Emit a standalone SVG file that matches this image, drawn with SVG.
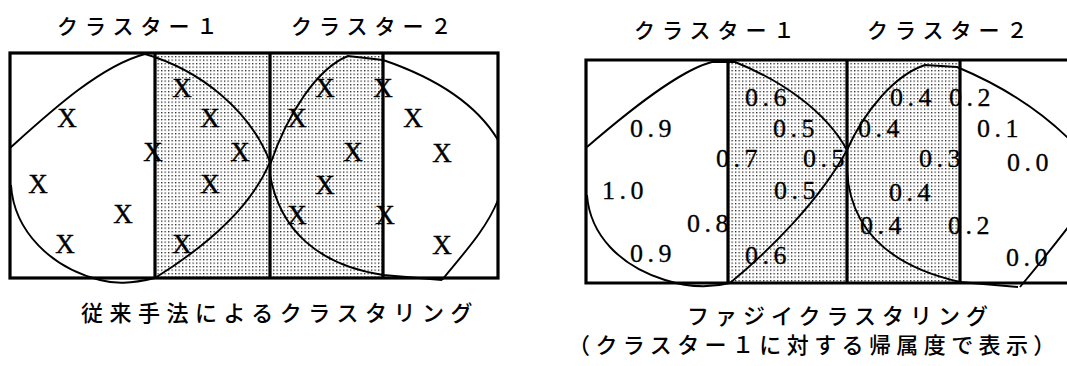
<svg xmlns="http://www.w3.org/2000/svg" width="1067" height="366" viewBox="0 0 1067 366">
<defs>
<pattern id="dots" width="3.5" height="3.5" patternUnits="userSpaceOnUse">
<rect x="0" y="0" width="1.3" height="1.3" fill="#222"/>
</pattern>
<style>
.box{fill:none;stroke:#000;stroke-width:3.2}
.div{stroke:#000;stroke-width:3.2;fill:none}
.curve{fill:none;stroke:#000;stroke-width:1.9}
.jp{font-family:"Noto Sans CJK JP","Noto Sans CJK SC",sans-serif;fill:#000;font-weight:500}
.ttl{font-size:21px;letter-spacing:7px}
.cap{font-size:22px;letter-spacing:6.5px}
.x{font-family:"Liberation Serif",serif;font-size:27px;text-anchor:middle;fill:#000;stroke:#000;stroke-width:0.4}
.num{font-family:"Liberation Serif",serif;font-size:26px;letter-spacing:4.5px;fill:#000;stroke:#000;stroke-width:0.3}
</style>
</defs>
<rect width="1067" height="366" fill="#fff"/>

<g id="left-panel">
<g id="left-titles">
<text class="jp ttl" x="57" y="34">クラスター１</text>
<text class="jp ttl" x="291" y="34">クラスター２</text>
</g>
<rect x="155" y="53" width="228" height="225" fill="url(#dots)"/>
<g id="left-points">
<text class="x" x="67" y="127">X</text>
<text class="x" x="38" y="193">X</text>
<text class="x" x="123" y="223">X</text>
<text class="x" x="65" y="253">X</text>
<text class="x" x="182" y="97">X</text>
<text class="x" x="210" y="127">X</text>
<text class="x" x="153" y="161">X</text>
<text class="x" x="240" y="161">X</text>
<text class="x" x="210" y="193">X</text>
<text class="x" x="182" y="253">X</text>
<text class="x" x="325" y="97">X</text>
<text class="x" x="383" y="97">X</text>
<text class="x" x="297" y="127">X</text>
<text class="x" x="353" y="161">X</text>
<text class="x" x="325" y="194">X</text>
<text class="x" x="297" y="224">X</text>
<text class="x" x="385" y="224">X</text>
<text class="x" x="413" y="127">X</text>
<text class="x" x="442" y="162">X</text>
<text class="x" x="442" y="254">X</text>
</g>
<g id="left-frame">
<rect class="box" x="10" y="53" width="488" height="225"/>
<line class="div" x1="155" y1="53" x2="155" y2="278"/>
<line class="div" x1="270" y1="53" x2="270" y2="278"/>
<line class="div" x1="383" y1="53" x2="383" y2="278"/>
</g>
<g id="left-cluster1">
<path class="curve" d="M10 148 C50 112 100 66 145 54 C200 70 250 110 270 162 C250 210 200 250 155 278"/>
<path class="curve" d="M11 185 C14 232 52 268 100 280 C115 284 130 284 155 278"/>
</g>
<g id="left-cluster2">
<path class="curve" d="M270 165 C288 112 318 68 348 56 L383 60 C430 76 474 100 498 140"/>
<path class="curve" d="M270 175 C280 230 318 265 383 275 L442 280"/>
<path class="curve" d="M498 200 C486 230 462 255 442 280"/>
</g>
<text class="jp cap" x="81" y="321">従来手法によるクラスタリング</text>
</g>

<g id="right-panel">
<g id="right-titles">
<text class="jp ttl" x="634" y="38">クラスター１</text>
<text class="jp ttl" x="867" y="38">クラスター２</text>
</g>
<rect x="728" y="60" width="232" height="223" fill="url(#dots)"/>
<g id="right-values">
<text class="num" x="745" y="106">0.6</text>
<text class="num" x="890" y="106">0.4</text>
<text class="num" x="949" y="106">0.2</text>
<text class="num" x="630" y="137">0.9</text>
<text class="num" x="773" y="137">0.5</text>
<text class="num" x="858" y="137">0.4</text>
<text class="num" x="977" y="137">0.1</text>
<text class="num" x="716" y="167">0.7</text>
<text class="num" x="803" y="167">0.5</text>
<text class="num" x="919" y="167">0.3</text>
<text class="num" x="1007" y="171">0.0</text>
<text class="num" x="602" y="199">1.0</text>
<text class="num" x="774" y="199">0.5</text>
<text class="num" x="889" y="201">0.4</text>
<text class="num" x="687" y="232">0.8</text>
<text class="num" x="860" y="234">0.4</text>
<text class="num" x="948" y="234">0.2</text>
<text class="num" x="630" y="262">0.9</text>
<text class="num" x="745" y="264">0.6</text>
<text class="num" x="1006" y="266">0.0</text>
</g>
<g id="right-frame">
<path class="box" d="M1070 60 L586 60 L586 283 L1070 283"/>
<line class="div" x1="728" y1="60" x2="728" y2="283"/>
<line class="div" x1="847" y1="60" x2="847" y2="283"/>
<line class="div" x1="960" y1="60" x2="960" y2="283"/>
</g>
<g id="right-cluster1">
<path class="curve" d="M587 147 C630 110 680 70 712 62 L735 62 C780 80 825 110 847 150 C820 200 770 250 730 283"/>
<path class="curve" d="M587 195 C590 235 620 266 665 280 C690 288 710 288 730 283"/>
</g>
<g id="right-cluster2">
<path class="curve" d="M847 150 C865 110 895 75 925 65 L957 67 C1000 85 1040 110 1070 140"/>
<path class="curve" d="M847 170 C850 230 890 266 960 282 L1018 287"/>
<path class="curve" d="M1069 226 C1052 248 1036 268 1020 287"/>
</g>
<text class="jp cap" x="687" y="324" style="letter-spacing:6px">ファジイクラスタリング</text>
<text class="jp cap" x="568" y="353" style="letter-spacing:5.4px">（クラスター１に対する帰属度で表示）</text>
</g>
</svg>
